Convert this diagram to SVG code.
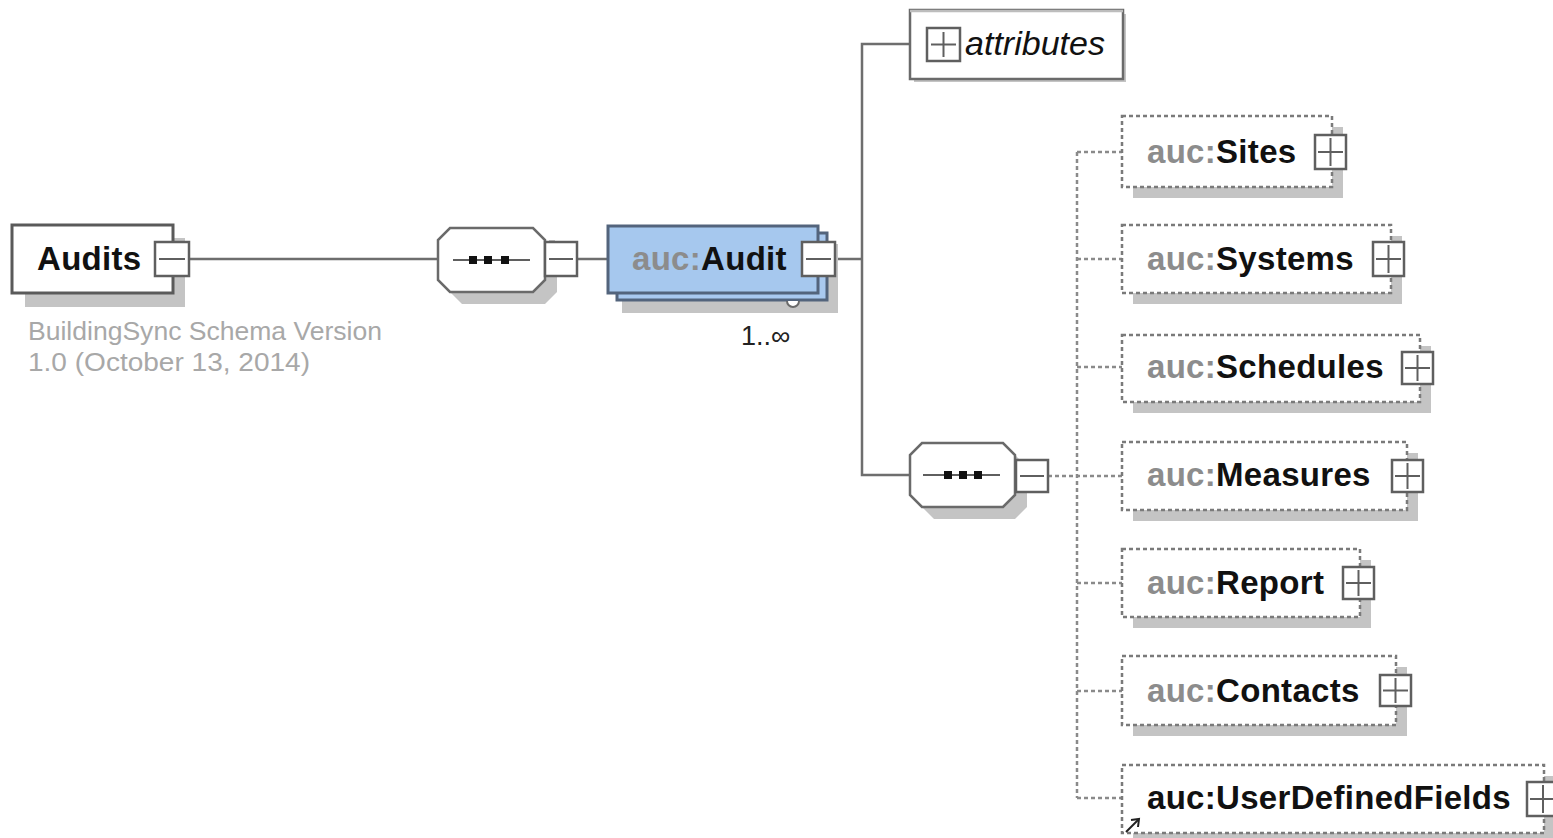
<svg xmlns="http://www.w3.org/2000/svg" width="1553" height="838" viewBox="0 0 1553 838">
<style>
.bg{fill:#ffffff}
.sh{fill:#c4c4c4}
.box{fill:#ffffff;stroke:#5a5a5a;stroke-width:3}
.opt{fill:#ffffff;stroke:#7a7a7a;stroke-width:2.5;stroke-dasharray:4 3}
.pm{fill:#ffffff;stroke:#5f5f5f;stroke-width:2.5}
.pml{stroke:#5f5f5f;stroke-width:2}
.con{fill:none;stroke:#6e6e6e;stroke-width:2.5}
.dcon{fill:none;stroke:#8a8a8a;stroke-width:2.5;stroke-dasharray:4 3}
.nm{font-family:"Liberation Sans",Arial,sans-serif;font-size:33px;font-weight:bold;fill:#111111;letter-spacing:0.3px}
.pre{fill:#8c8c8c}
.desc{font-family:"Liberation Sans",Arial,sans-serif;font-size:25px;fill:#a8a8a8}
.dot{fill:#111111}
</style>
<rect class="bg" x="0" y="0" width="1553" height="838"/>

<g id="connectors">
<line class="con" x1="189" y1="259" x2="438" y2="259"/>
<line class="con" x1="577" y1="259" x2="608" y2="259"/>
<line class="con" x1="835" y1="259" x2="862" y2="259"/>
<polyline class="con" points="910,44 862,44 862,475 910,475"/>
<line class="dcon" x1="1048" y1="476" x2="1122" y2="476"/>
<line class="dcon" x1="1077" y1="152" x2="1077" y2="798"/>
<line class="dcon" x1="1077" y1="152" x2="1122" y2="152"/>
<line class="dcon" x1="1077" y1="259" x2="1122" y2="259"/>
<line class="dcon" x1="1077" y1="367" x2="1122" y2="367"/>
<line class="dcon" x1="1077" y1="583" x2="1122" y2="583"/>
<line class="dcon" x1="1077" y1="691" x2="1122" y2="691"/>
<line class="dcon" x1="1077" y1="798" x2="1122" y2="798"/>
</g>

<g id="node-audits">
<rect class="sh" x="25" y="238" width="160" height="69"/>
<rect class="box" x="12" y="225" width="161" height="68"/>
<text class="nm" x="37" y="270">Audits</text>
<rect class="pm" x="155" y="242" width="34" height="34"/>
<line class="pml" x1="159" y1="259" x2="185" y2="259"/>
<text class="desc" x="28" y="340" textLength="354" lengthAdjust="spacingAndGlyphs">BuildingSync Schema Version</text>
<text class="desc" x="28" y="371" textLength="282" lengthAdjust="spacingAndGlyphs">1.0 (October 13, 2014)</text>
</g>

<g id="node-seq1">
<polygon class="sh" points="462,240 545,240 557,252 557,292 545,304 462,304 450,292 450,252"/>
<polygon class="box" style="stroke:#6a6a6a;stroke-width:2.5" points="450,228 533,228 545,240 545,280 533,292 450,292 438,280 438,240"/>
<line class="pml" x1="453" y1="260" x2="530" y2="260"/>
<rect class="dot" x="469" y="256" width="8" height="8"/>
<rect class="dot" x="484" y="256" width="8" height="8"/>
<rect class="dot" x="501" y="256" width="8" height="8"/>
<rect class="sh" x="549" y="240" width="6" height="6"/>
<rect class="pm" x="545" y="242" width="32" height="34"/>
<line class="pml" x1="549" y1="259" x2="573" y2="259"/>
</g>

<g id="node-audit">
<rect class="sh" x="622" y="244" width="216" height="69"/>
<rect x="617" y="233" width="210" height="67" fill="#a9c9ef" stroke="#53647c" stroke-width="3"/>
<rect x="608" y="226" width="210" height="67" fill="#a6c8ee" stroke="#53647c" stroke-width="3"/>
<path d="M787,301 A6,6 0 0 0 799,301" fill="#ffffff" stroke="#6a6a6a" stroke-width="2"/>
<text class="nm" x="632" y="270"><tspan class="pre">auc:</tspan>Audit</text>
<rect class="pm" x="802" y="242" width="33" height="34"/>
<line class="pml" x1="806" y1="259" x2="831" y2="259"/>
<text x="741" y="345" font-family="'Liberation Sans',Arial,sans-serif" font-size="27" fill="#222222">1..∞</text>
</g>

<g id="node-attributes">
<rect class="sh" x="914" y="14" width="212" height="68"/>
<rect x="910" y="10" width="213" height="69" fill="#ffffff" stroke="#6a6a6a" stroke-width="2.5"/>
<line x1="910" y1="11" x2="1123" y2="11" stroke="#bdbdbd" stroke-width="2.5"/>
<rect class="pm" x="927" y="28" width="33" height="33"/>
<line class="pml" x1="931" y1="44.5" x2="956" y2="44.5"/>
<line class="pml" x1="943.5" y1="32" x2="943.5" y2="57"/>
<text x="965" y="55" font-family="'Liberation Sans',Arial,sans-serif" font-size="33" font-style="italic" fill="#111111" textLength="140" lengthAdjust="spacingAndGlyphs">attributes</text>
</g>

<g id="node-seq2">
<polygon class="sh" points="934,455 1015,455 1027,467 1027,507 1015,519 934,519 922,507 922,467"/>
<polygon class="box" style="stroke:#6a6a6a;stroke-width:2.5" points="922,443 1003,443 1015,455 1015,495 1003,507 922,507 910,495 910,455"/>
<line class="pml" x1="923" y1="475" x2="1000" y2="475"/>
<rect class="dot" x="944" y="471" width="8" height="8"/>
<rect class="dot" x="959" y="471" width="8" height="8"/>
<rect class="dot" x="974" y="471" width="8" height="8"/>
<rect class="pm" x="1016" y="460" width="32" height="32"/>
<line class="pml" x1="1020" y1="476" x2="1044" y2="476"/>
</g>

<g id="node-sites">
<rect class="sh" x="1133" y="127" width="210" height="71"/>
<rect class="opt" x="1122" y="116" width="210" height="71"/>
<text class="nm" x="1147" y="163"><tspan class="pre">auc:</tspan>Sites</text>
<rect class="pm" x="1315" y="135" width="31" height="34"/>
<line class="pml" x1="1318" y1="152" x2="1343" y2="152"/>
<line class="pml" x1="1330.5" y1="138" x2="1330.5" y2="166"/>
</g>

<g id="node-systems">
<rect class="sh" x="1133" y="236" width="269" height="68"/>
<rect class="opt" x="1122" y="225" width="269" height="68"/>
<text class="nm" x="1147" y="270"><tspan class="pre">auc:</tspan>Systems</text>
<rect class="pm" x="1373" y="242" width="31" height="34"/>
<line class="pml" x1="1376" y1="259" x2="1401" y2="259"/>
<line class="pml" x1="1388.5" y1="245" x2="1388.5" y2="273"/>
</g>

<g id="node-schedules">
<rect class="sh" x="1133" y="346" width="298" height="67"/>
<rect class="opt" x="1122" y="335" width="298" height="67"/>
<text class="nm" x="1147" y="378"><tspan class="pre">auc:</tspan>Schedules</text>
<rect class="pm" x="1402" y="352" width="31" height="32"/>
<line class="pml" x1="1405" y1="368" x2="1430" y2="368"/>
<line class="pml" x1="1417.5" y1="355" x2="1417.5" y2="381"/>
</g>

<g id="node-measures">
<rect class="sh" x="1133" y="453" width="285" height="68"/>
<rect class="opt" x="1122" y="442" width="285" height="68"/>
<text class="nm" x="1147" y="486"><tspan class="pre">auc:</tspan>Measures</text>
<rect class="pm" x="1392" y="460" width="31" height="32"/>
<line class="pml" x1="1395" y1="476" x2="1420" y2="476"/>
<line class="pml" x1="1407.5" y1="463" x2="1407.5" y2="489"/>
</g>

<g id="node-report">
<rect class="sh" x="1133" y="560" width="238" height="68"/>
<rect class="opt" x="1122" y="549" width="238" height="68"/>
<text class="nm" x="1147" y="594"><tspan class="pre">auc:</tspan>Report</text>
<rect class="pm" x="1343" y="567" width="31" height="32"/>
<line class="pml" x1="1346" y1="583" x2="1371" y2="583"/>
<line class="pml" x1="1358.5" y1="570" x2="1358.5" y2="596"/>
</g>

<g id="node-contacts">
<rect class="sh" x="1133" y="667" width="274" height="69"/>
<rect class="opt" x="1122" y="656" width="274" height="69"/>
<text class="nm" x="1147" y="702"><tspan class="pre">auc:</tspan>Contacts</text>
<rect class="pm" x="1380" y="675" width="31" height="31"/>
<line class="pml" x1="1383" y1="690.5" x2="1408" y2="690.5"/>
<line class="pml" x1="1395.5" y1="678" x2="1395.5" y2="703"/>
</g>

<g id="node-userdefinedfields">
<rect class="sh" x="1133" y="776" width="422" height="68"/>
<rect class="opt" x="1122" y="765" width="422" height="68"/>
<text class="nm" x="1147" y="809">auc:UserDefinedFields</text>
<rect class="pm" x="1527" y="782" width="32" height="34"/>
<line class="pml" x1="1530" y1="799" x2="1556" y2="799"/>
<line class="pml" x1="1543" y1="785" x2="1543" y2="813"/>
<line x1="1126" y1="832" x2="1138" y2="820" stroke="#222222" stroke-width="2"/>
<polyline points="1131,820 1139,819 1138,827" fill="none" stroke="#222222" stroke-width="2"/>
</g>
</svg>
